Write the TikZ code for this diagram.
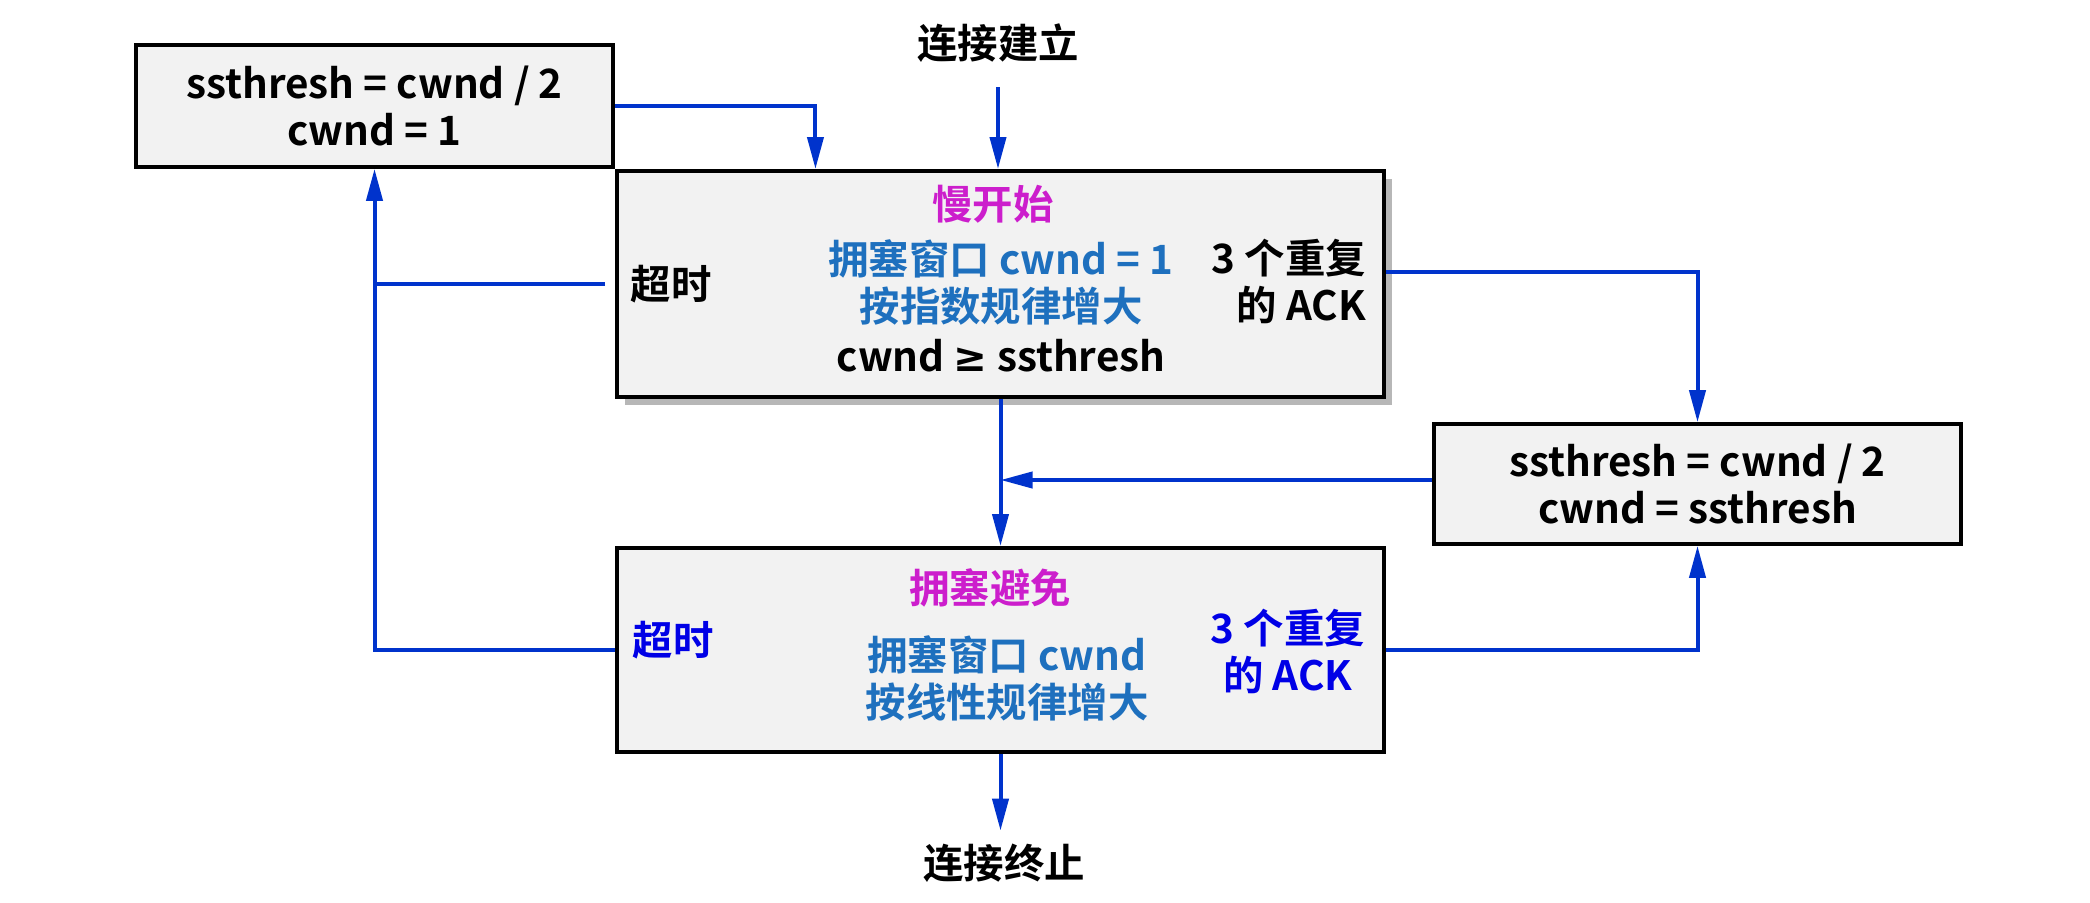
\documentclass[tikz,border=0pt]{standalone}
\usepackage{fontspec}
\setmainfont{Noto Sans CJK SC}[BoldFont={Noto Sans CJK SC Bold}]
\newfontfamily\symfont{DejaVu Sans}
\usepackage{tikz}
\usetikzlibrary{arrows.meta, positioning, calc, shadows}
\usepackage{xcolor}
\definecolor{flowblue}{RGB}{0,51,204}
\definecolor{titlemag}{RGB}{204,30,204}
\definecolor{ruleblue}{RGB}{30,112,190}
\definecolor{evblue}{RGB}{0,0,230}
\definecolor{boxgray}{RGB}{242,242,242}

\begin{document}
\begin{tikzpicture}[
  x=0.5pt, y=-0.5pt,
  every node/.style={align=center, font=\bfseries\fontsize{20.2}{23.5}\selectfont},
  phase/.style={
    rectangle, draw=black, line width=2pt, fill=boxgray,
    minimum width=383.5pt, inner sep=0pt
  },
  setbox/.style={
    rectangle, draw=black, line width=1.8pt, fill=boxgray, inner sep=0pt
  },
  title/.style={text=titlemag},
  rule/.style={text=ruleblue},
  flow/.style={draw=flowblue, line width=2pt, -{Triangle[width=8pt, length=16pt]}},
  wire/.style={draw=flowblue, line width=2pt}
]
\useasboundingbox (0,0) rectangle (2090,902);

\node[setbox, minimum width=238.5pt, minimum height=61pt] (reset) at (374.5,106) {};
\node at (374.5,106) {ssthresh = cwnd / 2\\cwnd = 1};

\node[phase, minimum height=113pt,
      drop shadow={shadow xshift=4pt, shadow yshift=-4pt, opacity=.4, fill=black!70}]
      (ss) at (1000.5,284) {};
\node[title] (sst) at (993,204) {慢开始};
\node[rule]  (ssr) at (1001,282) {拥塞窗口 cwnd = 1\\按指数规律增大};
\node (ssc) at (1001,356) {cwnd {\symfont ≥} ssthresh};
\node (ssto) at (671,284) {超时};
\node[align=right, anchor=east] (ssack) at (1373,281) {3 个重复\\的 ACK};

\node[setbox, minimum width=263.5pt, minimum height=60pt] (half) at (1697.5,484) {};
\node at (1697.5,484) {ssthresh = cwnd / 2\\cwnd = ssthresh};

\node[phase, minimum height=102pt] (ca) at (1000.5,650) {};
\node[title] (cat) at (990,588) {拥塞避免};
\node[rule]  (car) at (1007,678) {拥塞窗口 cwnd\\按线性规律增大};
\node[text=evblue] (cato) at (673,640) {超时};
\node[text=evblue] (caack) at (1288,651) {3 个重复\\的 ACK};

\node (open)  at (998,43)  {连接建立};
\node (close) at (1004,863) {连接终止};

\draw[flow, shorten <=9pt] (open) -- (open |- ss.north);
\draw[flow] (reset.east) -| ($(ss.north west)!0.26!(ss.north east)$);
\draw[flow] (ss.south) -- (ca.north);
\draw[flow, shorten >=3pt] (ca.south) -- (ca.south |- close.north);
\draw[wire, shorten <=5pt] (ss.west) -- (reset.south |- ss.west);
\draw[flow] (ca.west) -| (reset.south);
\draw[flow] ([yshift=6pt]ss.east) -| (half.north);
\draw[flow] (ca.east) -| (half.south);
\draw[flow] ([yshift=2pt]half.west) -- ([yshift=2pt]half.west -| ss.south);
\end{tikzpicture}
\end{document}
